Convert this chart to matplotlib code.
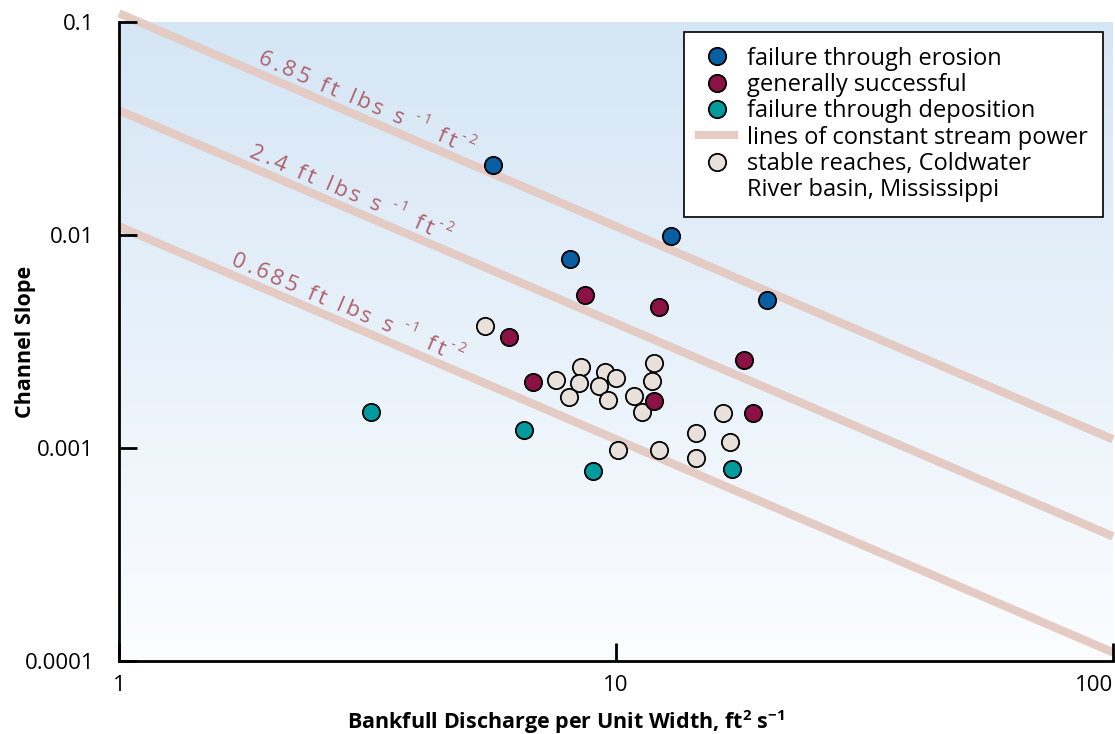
import numpy as np
import matplotlib
matplotlib.use("Agg")
import matplotlib.pyplot as plt
from matplotlib.lines import Line2D
from matplotlib.ticker import FixedLocator, FixedFormatter, NullLocator

plt.rcParams['font.family'] = ['Open Sans', 'DejaVu Sans']
plt.rcParams['mathtext.fontset'] = 'custom'
plt.rcParams['mathtext.rm'] = 'Open Sans'
plt.rcParams['mathtext.it'] = 'Open Sans'
plt.rcParams['mathtext.bf'] = 'Open Sans:bold'

# --- data -------------------------------------------------------------
erosion_q = [5.65, 8.08, 12.9, 20.1]
erosion_s = [0.0212, 0.00773, 0.00992, 0.00496]

success_q = [8.66, 12.2, 6.09, 6.81, 11.9, 18.1, 18.9]
success_s = [0.00524, 0.00459, 0.00332, 0.00204, 0.00166, 0.00259, 0.00146]

deposit_q = [3.21, 6.53, 8.99, 17.1]
deposit_s = [0.00147, 0.00121, 0.000784, 0.000801]

stable_q = [5.45, 7.57, 8.50, 8.43, 8.04, 9.50, 10.0, 9.24, 9.64, 10.87,
            11.93, 11.82, 11.28, 16.42, 14.49, 16.96, 14.49, 10.09, 12.2]
stable_s = [0.00374, 0.00208, 0.00240, 0.00201, 0.00173, 0.00227, 0.00213,
            0.00195, 0.00168, 0.00175, 0.00250, 0.00206, 0.00147, 0.00146,
            0.00117, 0.00107, 0.000893, 0.000974, 0.000974]

# stream power values (ft lbs s^-1 ft^-2) and unit weight of water (lb ft^-3)
stream_power = [6.85, 2.4, 0.685]
power_text = ["6.85", "2.4", "0.685"]
label_q = [1.89, 1.82, 1.675]
gamma = 62.4

x_ticks = [1, 10, 100]
x_tick_labels = ["1", "10", "100"]
y_ticks = [0.0001, 0.001, 0.01, 0.1]
y_tick_labels = ["0.0001", "0.001", "0.01", "0.1"]

# --- style --------------------------------------------------------------
c_erosion = "#0A5FA3"
c_success = "#8B1244"
c_deposit = "#019B9E"
c_stable = "#E8E0DA"
c_line = "#E4CBC3"
c_text = "#B0606B"

DPI = 100
fig = plt.figure(figsize=(11.15, 7.34), dpi=DPI)
ax = fig.add_axes([119 / 1115, 1 - 661 / 734, 994 / 1115, (661 - 22) / 734])
ax.set_xscale('log')
ax.set_yscale('log')
ax.set_xlim(1, 100)
ax.set_ylim(0.0001, 0.1)

# background gradient inside the plotting area
grad = np.linspace(0, 1, 256).reshape(-1, 1)
top = np.array([0.835, 0.902, 0.961])
bottom = np.array([0.985, 0.992, 1.0])
img = bottom + (top - bottom) * grad
ax.imshow(img[:, None, :].repeat(2, axis=1), extent=[0, 1, 0, 1],
          transform=ax.transAxes, aspect='auto', origin='lower', zorder=0)

# lines of constant stream power: S = omega / (gamma * q)
q_line = np.array([1.0, 100.0])
for w in stream_power:
    ax.plot(q_line, w / gamma / q_line, color=c_line, lw=6,
            solid_capstyle='butt', zorder=1, clip_on=False)

fig.canvas.draw()
renderer = fig.canvas.get_renderer()


def text_width(s, size):
    t = fig.text(0, 0, s, fontsize=size)
    w = t.get_window_extent(renderer).width
    t.remove()
    return w


def tracked_label(q0, s0, segments, angle_deg, size, track):
    """Draw letter-spaced text along a rotated baseline.
    segments: list of (text, is_superscript)."""
    x0, y0 = ax.transData.transform((q0, s0))
    a = np.radians(angle_deg)
    ux, uy = np.cos(a), np.sin(a)
    nx, ny = -uy, ux
    adv = 0.0
    for seg, sup in segments:
        fs = size * 0.62 if sup else size
        rise = size * DPI / 72 * 0.5 if sup else 0.0
        sp = text_width("a a", fs) - text_width("aa", fs)
        for ch in seg:
            if ch == " ":
                adv += sp + track
                continue
            px = x0 + ux * adv + nx * rise
            py = y0 + uy * adv + ny * rise
            fx, fy = fig.transFigure.inverted().transform((px, py))
            fig.text(fx, fy, ch, fontsize=fs, color=c_text, rotation=angle_deg,
                     rotation_mode='anchor', ha='left', va='baseline', zorder=2)
            adv += text_width(ch, fs) + track


p1 = ax.transData.transform((1, 0.1))
p2 = ax.transData.transform((100, 0.001))
angle = np.degrees(np.arctan2(p2[1] - p1[1], p2[0] - p1[0]))
for w, num, q0 in zip(stream_power, power_text, label_q):
    segs = [(num + " ft lbs s", False), (" -1", True),
            (" ft", False), ("-2", True)]
    tracked_label(q0, w / gamma / q0 * 1.1, segs, angle, 16, 3.3)

mk = dict(s=155, edgecolors='black', linewidths=1.3, zorder=3)
ax.scatter(stable_q, stable_s, c=c_stable, **mk)
ax.scatter(erosion_q, erosion_s, c=c_erosion, **mk)
ax.scatter(success_q, success_s, c=c_success, **mk)
ax.scatter(deposit_q, deposit_s, c=c_deposit, **mk)

# axes styling
for side in ['top', 'right']:
    ax.spines[side].set_visible(False)
for side in ['left', 'bottom']:
    ax.spines[side].set_linewidth(2)
ax.xaxis.set_major_locator(FixedLocator(x_ticks))
ax.xaxis.set_major_formatter(FixedFormatter(x_tick_labels))
ax.yaxis.set_major_locator(FixedLocator(y_ticks))
ax.yaxis.set_major_formatter(FixedFormatter(y_tick_labels))
ax.xaxis.set_minor_locator(NullLocator())
ax.yaxis.set_minor_locator(NullLocator())
ax.tick_params(axis='both', which='major', direction='in', length=13,
               width=2, labelsize=16)
ax.tick_params(axis='x', pad=10)
ax.tick_params(axis='y', pad=18)
ax.get_xticklabels()[-1].set_horizontalalignment('right')
ax.get_xticklabels()[-1].set_x(100)

ax.set_xlabel("Bankfull Discharge per Unit Width, ft$^{\\mathbf{2}}$ s$^{\\mathbf{-1}}$",
              fontsize=15.5, fontweight='bold')
ax.xaxis.set_label_coords(0.45, -0.074)
ax.set_ylabel("Channel Slope", fontsize=15.5, fontweight='bold')
ax.yaxis.set_label_coords(-0.084, 0.5)

# legend
hkw = dict(marker='o', linestyle='none', markersize=12.5,
           markeredgecolor='black', markeredgewidth=1.3)
handles = [
    Line2D([], [], markerfacecolor=c_erosion, **hkw),
    Line2D([], [], markerfacecolor=c_success, **hkw),
    Line2D([], [], markerfacecolor=c_deposit, **hkw),
    Line2D([], [], color=c_line, lw=6),
    Line2D([], [], markerfacecolor=c_stable, **hkw),
    Line2D([], [], linestyle='none'),
]
labels = ["failure through erosion", "generally successful",
          "failure through deposition", "lines of constant stream power",
          "stable reaches, Coldwater", "River basin, Mississippi"]
leg = ax.legend(handles, labels, loc='upper right',
                bbox_to_anchor=(984 / 994, (661 - 32) / 639),
                fontsize=17, frameon=True, fancybox=False, framealpha=1,
                edgecolor='black', handlelength=1.5, handletextpad=0.55,
                labelspacing=0.1, borderpad=0.62, borderaxespad=0)
leg.get_frame().set_linewidth(1.2)
leg.set_zorder(5)

fig.savefig("out.png", dpi=DPI)
